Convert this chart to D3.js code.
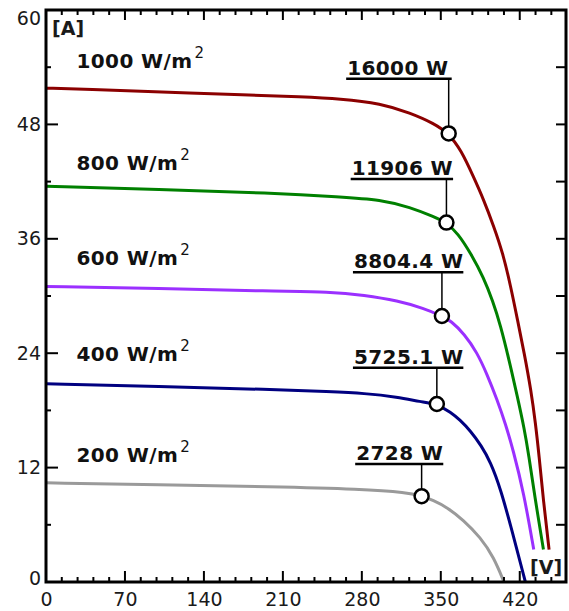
<html>
<head>
    <script src="https://cdn.jsdelivr.net/npm/d3@7/dist/d3.min.js" charset="utf-8"></script>
    <style>
        body { margin: 0; background: #fff; }
    </style>
</head>
<body>
    <script type="text/javascript">
        var width = 569;
        var height = 611;

        // irradiance levels and I-V curve samples (V, A)
        const irradiance = [1000, 800, 600, 400, 200];

        const volts1000 = [0, 37, 100, 179, 226, 261, 297, 323, 344, 357, 368, 379, 388, 397, 405, 412, 418, 424, 430, 434, 437, 441, 446];
        const amps1000  = [51.8, 51.7, 51.4, 51.1, 50.9, 50.7, 50.2, 49.2, 48.1, 47.05, 45.3, 42.5, 40.1, 37.3, 34.5, 31.0, 27.5, 24.0, 20.1, 16.6, 13.4, 8.5, 3.4];

        const volts800 = [0, 100, 200, 261, 297, 323, 344, 355, 365, 377, 388, 396, 403, 410.5, 418, 424, 428, 433, 441];
        const amps800  = [41.5, 41.2, 40.8, 40.4, 40.1, 39.3, 38.3, 37.7, 36.6, 34.4, 31.9, 29.5, 26.9, 23.3, 19.4, 16.1, 13.3, 9.2, 3.4];

        const volts600 = [0, 100, 200, 252, 282, 312, 335, 351, 359, 371, 382, 391, 400, 407.6, 414, 423.5, 432.4];
        const amps600  = [31.0, 30.8, 30.5, 30.45, 30.1, 29.5, 28.7, 27.9, 27.4, 26.0, 24.1, 21.8, 19.1, 16.5, 13.9, 9.4, 3.4];

        const volts400 = [0, 100, 200, 252, 282, 312, 332, 346.5, 359, 367, 376, 386, 394, 403, 414, 425];
        const amps400  = [20.8, 20.5, 20.2, 19.96, 19.8, 19.4, 18.9, 18.67, 17.8, 17.0, 15.9, 14.3, 12.6, 9.8, 5.0, 0];

        const volts200 = [0, 100, 200, 280, 320, 333, 343, 356, 370, 385, 397, 406];
        const amps200  = [10.4, 10.2, 10.0, 9.75, 9.4, 9.0, 8.6, 7.8, 6.5, 4.7, 2.6, 0];

        // maximum power points
        const mppVolts = [357, 355, 351, 346.5, 333];
        const mppAmps  = [47.05, 37.7, 27.9, 18.67, 9.0];
        const mppLabels = ["16000 W", "11906 W", "8804.4 W", "5725.1 W", "2728 W"];

        // axis ticks
        const xMajor = [0, 70, 140, 210, 280, 350, 420];
        const xMinor = d3.range(14, 461, 14).filter(v => v % 70 !== 0);
        const yMajor = [0, 12, 24, 36, 48, 60];
        const yMinor = [6, 18, 30, 42, 54];

        const colors = ["#8b0000", "#008000", "#9b30ff", "#000080", "#9a9a9a"];

        // where the texts sit (V for x, A for the baseline)
        const irrLabelPos = [[27, 53.9], [27, 43.2], [27, 33.3], [27, 23.2], [27, 12.6]];
        const mppLabelPos = [[267, 53.2], [271, 42.7], [273, 32.9], [273, 22.9], [275, 12.8]];

        const series = [
            d3.zip(volts1000, amps1000),
            d3.zip(volts800, amps800),
            d3.zip(volts600, amps600),
            d3.zip(volts400, amps400),
            d3.zip(volts200, amps200)
        ];

        const svg = d3.select("body").append("svg")
            .attr("width", width)
            .attr("height", height);

        const g = svg.append("g")
            .style("font-family", "'DejaVu Sans', sans-serif");

        const xScale = d3.scaleLinear().domain([0, 461]).range([46, 566]);
        const yScale = d3.scaleLinear().domain([0, 60]).range([582, 10]);

        // curves
        const line = d3.line()
            .x(d => xScale(d[0]))
            .y(d => yScale(d[1]))
            .curve(d3.curveBasis);

        g.selectAll("path.curve")
            .data(series)
            .join("path")
            .attr("class", "curve")
            .attr("d", line)
            .attr("fill", "none")
            .attr("stroke", (d, i) => colors[i])
            .attr("stroke-width", 3);

        // inward ticks on all four sides
        function xTicks(values, y0, len) {
            g.append("g").selectAll("line")
                .data(values)
                .join("line")
                .attr("x1", d => xScale(d)).attr("x2", d => xScale(d))
                .attr("y1", y0).attr("y2", y0 + len)
                .attr("stroke", "#000").attr("stroke-width", 2);
        }
        function yTicks(values, x0, len) {
            g.append("g").selectAll("line")
                .data(values)
                .join("line")
                .attr("y1", d => yScale(d)).attr("y2", d => yScale(d))
                .attr("x1", x0).attr("x2", x0 + len)
                .attr("stroke", "#000").attr("stroke-width", 2);
        }

        xTicks(xMajor, yScale(0), -11);
        xTicks(xMinor, yScale(0), -5);
        xTicks(xMajor, yScale(60), 10);
        xTicks(xMinor, yScale(60), 5);
        yTicks(yMajor, xScale(0), 12);
        yTicks(yMinor, xScale(0), 5);
        yTicks(yMajor.concat(yMinor), xScale(461), -10);

        // tick labels
        const xAxis = g.append("g")
            .attr("transform", `translate(0,${yScale(0)})`)
            .call(d3.axisBottom(xScale).tickValues(xMajor).tickSize(0).tickPadding(11));
        xAxis.select(".domain").remove();
        xAxis.selectAll("text")
            .attr("fill", "#1a1a1a")
            .style("font-size", "19px")
            .style("font-family", "'DejaVu Sans', sans-serif");

        const yAxis = g.append("g")
            .attr("transform", `translate(${xScale(0)},0)`)
            .call(d3.axisLeft(yScale).tickValues(yMajor).tickSize(0).tickPadding(5));
        yAxis.select(".domain").remove();
        yAxis.selectAll("text")
            .attr("fill", "#1a1a1a")
            .style("font-size", "19px")
            .style("font-family", "'DejaVu Sans', sans-serif");
        yAxis.selectAll(".tick")
            .filter(d => d === 60)
            .select("text").attr("dy", "0.75em");
        yAxis.selectAll(".tick")
            .filter(d => d === 0)
            .select("text").attr("dy", "0.15em");

        // frame
        g.append("rect")
            .attr("x", xScale(0))
            .attr("y", yScale(60))
            .attr("width", xScale(461) - xScale(0))
            .attr("height", yScale(0) - yScale(60))
            .attr("fill", "none")
            .attr("stroke", "#000")
            .attr("stroke-width", 3);

        // unit labels
        g.append("text")
            .attr("x", 52).attr("y", 35)
            .style("font-size", "19px").style("font-weight", "bold")
            .attr("fill", "#1a1a1a")
            .text("[A]");
        g.append("text")
            .attr("x", 530).attr("y", 574)
            .style("font-size", "19px").style("font-weight", "bold")
            .attr("fill", "#1a1a1a")
            .text("[V]");

        // irradiance labels
        irradiance.forEach((w, i) => {
            const t = g.append("text")
                .attr("x", xScale(irrLabelPos[i][0]))
                .attr("y", yScale(irrLabelPos[i][1]))
                .attr("fill", "#111")
                .style("font-size", "20px")
                .style("font-weight", "bold")
                .style("letter-spacing", "0.4px");
            t.append("tspan").text(w + " W/m");
            t.append("tspan")
                .attr("dx", 2).attr("dy", -10)
                .style("font-size", "15px")
                .style("font-weight", "normal")
                .text("2");
        });

        // maximum power point markers with leaders
        mppLabels.forEach((label, i) => {
            const cx = xScale(mppVolts[i]);
            const cy = yScale(mppAmps[i]);
            const tx = xScale(mppLabelPos[i][0]);
            const ty = yScale(mppLabelPos[i][1]);

            const t = g.append("text")
                .attr("x", tx)
                .attr("y", ty)
                .attr("fill", "#111")
                .style("font-size", "20px")
                .style("font-weight", "bold")
                .style("letter-spacing", "0.4px")
                .text(label);
            const w = t.node().getComputedTextLength();
            const uy = ty + 4;

            g.append("line")
                .attr("x1", tx - 1).attr("x2", Math.max(tx + w, cx + 3))
                .attr("y1", uy).attr("y2", uy)
                .attr("stroke", "#000").attr("stroke-width", 2.5);
            g.append("line")
                .attr("x1", cx).attr("x2", cx)
                .attr("y1", uy).attr("y2", cy - 7)
                .attr("stroke", "#000").attr("stroke-width", 1.5);
            g.append("circle")
                .attr("cx", cx).attr("cy", cy).attr("r", 7)
                .attr("fill", "#fff")
                .attr("stroke", "#000").attr("stroke-width", 2.5);
        });
    </script>
</body>
</html>
